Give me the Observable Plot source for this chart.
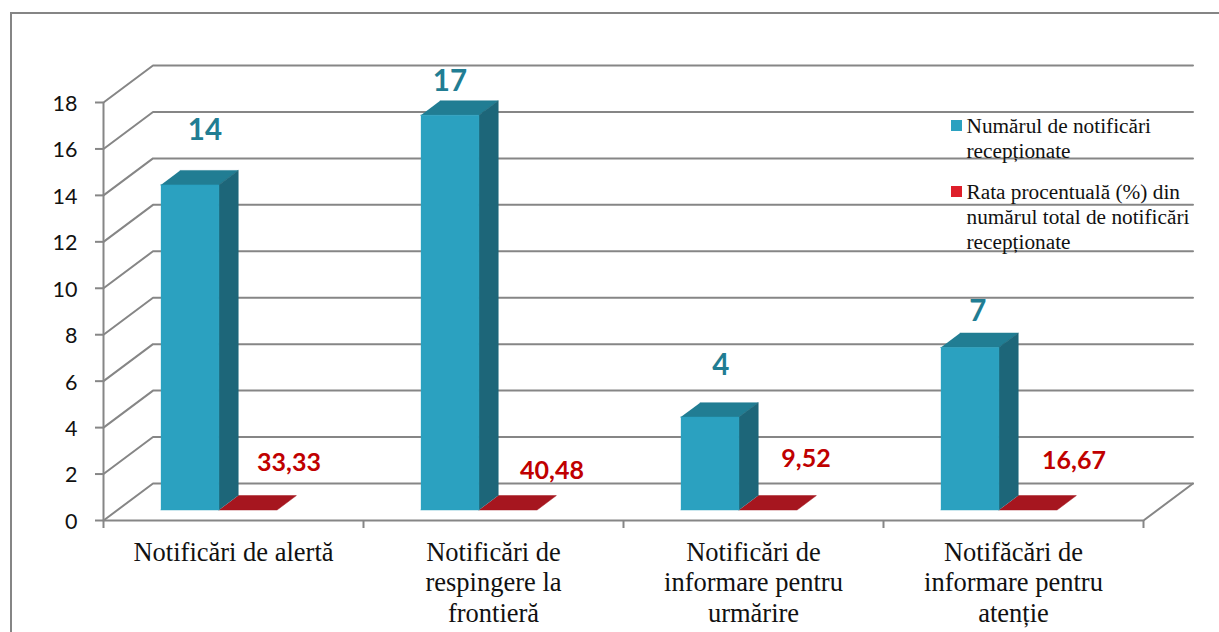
<!DOCTYPE html>
<html>
<head>
<meta charset="utf-8">
<script src="https://cdn.jsdelivr.net/npm/d3@7"></script>
<script src="https://cdn.jsdelivr.net/npm/@observablehq/plot@0.6"></script>
<style>
  html, body { margin: 0; padding: 0; background: #fff; overflow: hidden; }
  #wrap { position: relative; width: 1219px; height: 632px; }
  #wrap svg { position: absolute; left: 0; top: 0; background: transparent; }
  #frame { position: absolute; left: 10px; top: 12px; right: 0; bottom: 0; border-left: 2px solid #858585; border-top: 2px solid #858585; }
  #legend { position: absolute; left: 951px; top: 113.5px; font: 21.3px/25px "Liberation Serif", serif; color: #111; white-space: nowrap; }
  #legend .item { position: relative; padding-left: 15.5px; margin-bottom: 16px; }
  #legend .sw { position: absolute; left: 0; top: 6.5px; width: 11px; height: 11px; }
</style>
</head>
<body>
<div id="wrap"><div id="frame"></div></div>
<script>
// ---- data ----
const categories = [
  "Notificări de alertă",
  "Notificări de\nrespingere la\nfrontieră",
  "Notificări de\ninformare pentru\nurmărire",
  "Notifăcări de\ninformare pentru\natenție"
];
const notificationCounts = [14, 17, 4, 7];
const notificationRates = [33.33, 40.48, 9.52, 16.67];
const yTicks = [0, 2, 4, 6, 8, 10, 12, 14, 16, 18];
const legendLabels = ["Numărul de notificări<br>recepționate", "Rata procentuală (%) din<br>numărul total de notificări<br>recepționate"];

// ---- style and layout ----
const colors = {
  blueFront: "#2ba1c0", blueSide: "#1d6679", blueTop: "#217d93", blueText: "#217d93",
  redFloor: "#a6161f", redSwatch: "#de1f2a", redText: "#c00000", grid: "#868686"
};
const depthX = 0.1904, depthY = 1.593;               // oblique projection of one unit of depth
const barInset = 0.1665, barWidth = 0.2235;          // within a category band
const barDepthStart = 0.284, barDepthSpan = 0.39;    // bars float inside the floor
const countNudge = [[15, -54], [0, -34], [11, -52], [8, -36]];
const rateNudge = [[41, -46.5], [44, -38.5], [38, -50.5], [46, -48.5]];

const project = (cat, val, d) => ({x: cat + d * depthX, y: val + d * depthY});

// A box face: four corners given as [category position, value, depth]
function face(corners) { return corners.map(c => project(...c)); }
const poly = (pts, fill) => Plot.line(pts, {x: "x", y: "y", fill, stroke: fill, strokeWidth: 0.5, curve: "linear"});

const d0 = barDepthStart, d1 = barDepthStart + barDepthSpan;
const marks = [];

// back wall gridlines and side-wall diagonals
yTicks.forEach(t => {
  marks.push(Plot.line([project(0, t, 0), project(0, t, 1), project(categories.length, t, 1)],
    {x: "x", y: "y", stroke: colors.grid, strokeWidth: 2, curve: "linear"}));
});
// floor front edge and right diagonal
marks.push(Plot.line([project(0, 0, 0), project(categories.length, 0, 0), project(categories.length, 0, 1)],
  {x: "x", y: "y", stroke: colors.grid, strokeWidth: 2, curve: "linear"}));
// value axis line
marks.push(Plot.ruleX([0], {y1: 0, y2: 18, stroke: colors.grid, strokeWidth: 2}));

// axes
marks.push(Plot.axisY({ticks: yTicks, tickSize: 8, tickFormat: () => "", label: null, stroke: colors.grid, strokeWidth: 2}));
marks.push(Plot.text(yTicks, {x: () => 0, y: d => d, text: d => String(d), textAnchor: "end", dx: -26, dy: 1.5,
  fontSize: 21.5, fontFamily: "Lato", fill: "#111"}));
marks.push(Plot.axisX({ticks: d3.range(categories.length + 1), tickSize: 8, tickFormat: () => "",
  stroke: colors.grid, strokeWidth: 2, label: null}));

// category labels
marks.push(Plot.text(categories, {
  x: (_, i) => i + 0.5, y: () => 0, text: d => d, dy: 18.5, lineAnchor: "top", lineHeight: 1.15,
  fontFamily: "Liberation Serif", fontSize: 26.5, fill: "#111"
}));

// bars
notificationCounts.forEach((v, i) => {
  const l = i + barInset, m = l + barWidth, r = m + barWidth;
  marks.push(poly(face([[m, 0, d0], [r, 0, d0], [r, 0, d1], [m, 0, d1]]), colors.redFloor));
  marks.push(poly(face([[l, v, d0], [m, v, d0], [m, v, d1], [l, v, d1]]), colors.blueTop));
  marks.push(poly(face([[m, 0, d0], [m, v, d0], [m, v, d1], [m, 0, d1]]), colors.blueSide));
  marks.push(poly(face([[l, 0, d0], [m, 0, d0], [m, v, d0], [l, v, d0]]), colors.blueFront));

  const c = project(l + barWidth / 2, v, d0);
  marks.push(Plot.text([String(v)], {x: [c.x], y: [c.y], text: d => d, dx: countNudge[i][0], dy: countNudge[i][1],
    fontFamily: "Lato", fontWeight: 700, fontSize: 29.5, fill: colors.blueText}));
  const q = project(m + barWidth / 2, 0, d0);
  marks.push(Plot.text([notificationRates[i].toFixed(2).replace(".", ",")], {x: [q.x], y: [q.y], text: d => d,
    dx: rateNudge[i][0], dy: rateNudge[i][1],
    fontFamily: "Lato", fontWeight: 700, fontSize: 25, fill: colors.redText}));
});

const chart = Plot.plot({
  width: 1219, height: 632,
  marginLeft: 103, marginRight: 26.5, marginTop: 65, marginBottom: 112,
  style: {background: "transparent", overflow: "visible"},
  x: {type: "linear", domain: [0, categories.length + depthX], axis: null},
  y: {type: "linear", domain: [0, 18 + depthY], axis: null},
  marks
});
const wrap = document.getElementById("wrap");
wrap.appendChild(chart);

// legend overlaid on the back wall, as in the original
const legend = d3.select(wrap).append("div").attr("id", "legend");
legendLabels.forEach((t, i) => {
  const it = legend.append("div").attr("class", "item");
  it.append("span").attr("class", "sw").style("background", i ? colors.redSwatch : colors.blueFront);
  it.append("span").html(t);
});
</script>
</body>
</html>
